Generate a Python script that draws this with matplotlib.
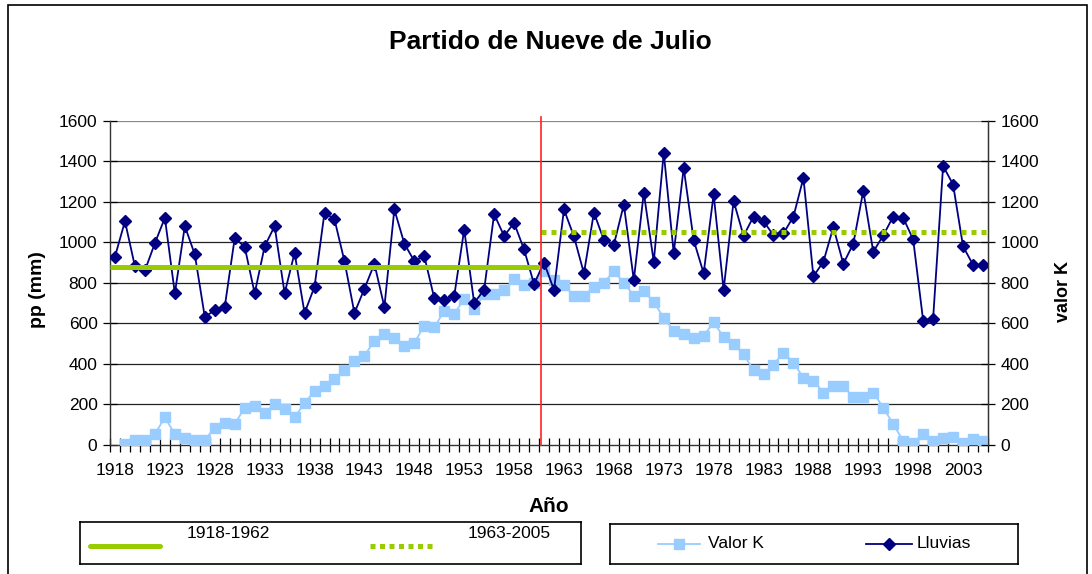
import matplotlib
matplotlib.use("Agg")
import matplotlib.pyplot as plt
import numpy as np
from matplotlib.patches import Rectangle

plt.rcParams['font.family'] = ['Liberation Sans', 'DejaVu Sans']

# Years on the category axis
years = list(range(1918, 2006))

# Annual rainfall (mm)
lluvias = [
    930, 1104, 881, 861, 996, 1121, 748, 1080, 940, 632,
    665, 681, 1021, 978, 748, 980, 1080, 748, 948, 651,
    781, 1147, 1113, 907, 651, 771, 894, 681, 1162, 994,
    907, 932, 724, 717, 735, 1063, 701, 766, 1139, 1031,
    1096, 965, 794, 900, 765, 1162, 1029, 847, 1147, 1011,
    988, 1186, 814, 1245, 904, 1442, 947, 1367, 1011, 847,
    1237, 765, 1204, 1032, 1127, 1105, 1034, 1044, 1127, 1318,
    832, 904, 1075, 894, 993, 1254, 953, 1034, 1127, 1121,
    1014, 614, 624, 1377, 1285, 980, 889, 889,
]

# Valor K (first year has no value)
valor_k = [
    np.nan, 3, 25, 25, 54, 136, 54, 34, 25, 25,
    85, 110, 102, 185, 194, 159, 202, 176, 136, 208,
    265, 292, 327, 369, 415, 440, 515, 550, 530, 489,
    505, 587, 581, 661, 648, 720, 669, 745, 745, 763,
    820, 788, 799, 860, 815, 788, 737, 737, 778, 801,
    858, 801, 737, 761, 704, 628, 563, 546, 528, 538,
    606, 533, 499, 448, 369, 350, 397, 456, 407, 331,
    317, 259, 290, 290, 235, 235, 259, 185, 103, 21,
    11, 54, 21, 33, 41, 11, 28, 20,
]

# Period means
period_labels = ['1918-1962', '1963-2005']
period_means = [876, 1050]

yticks = [0, 200, 400, 600, 800, 1000, 1200, 1400, 1600]
xlabel_years = list(range(1918, 2006, 5))

GREEN = '#99CC00'
NAVY = '#000080'
LIGHT = '#99CCFF'

fig = plt.figure(figsize=(10.92, 5.74), dpi=100)
ax = fig.add_axes([110 / 1092, 1 - 445 / 574, 878 / 1092, 324.3 / 574])

ax.set_xlim(1917.5, 2005.5)
ax.set_ylim(0, 1600)

# gridlines
for v in yticks[1:]:
    ax.axhline(v, color='#222222' if v < 1600 else '#888888', lw=0.9, zorder=1)

ax.plot(years, valor_k, color=LIGHT, lw=1.3, marker='s', ms=7,
        markeredgecolor=LIGHT, zorder=3)
ax.plot(years, lluvias, color=NAVY, lw=1.3, marker='D', ms=6.5,
        markeredgecolor=NAVY, zorder=4)

# split year and period means
split = 1960.7
ax.plot([1917.5, split - 0.2], [period_means[0]] * 2, color=GREEN, lw=3.6,
        solid_capstyle='butt', zorder=5)
ax.plot([split, 2005.5], [period_means[1]] * 2, color=GREEN, lw=3.6,
        linestyle=(0, (1, 1)), dash_capstyle='butt', zorder=5)
ax.axvline(split, ymin=0, ymax=1.012, color='#FF2222', lw=1.2, zorder=6,
           clip_on=False)

ax.spines['top'].set_visible(False)
for s in ['left', 'right', 'bottom']:
    ax.spines[s].set_color('#333333')
    ax.spines[s].set_linewidth(1.0)

ax.set_xticks(xlabel_years)
ax.set_xticklabels([str(y) for y in xlabel_years], fontsize=12.5)
ax.set_xticks(np.arange(1917.5, 2006, 1), minor=True)
ax.tick_params(axis='x', which='major', length=0, pad=13)
ax.tick_params(axis='x', which='minor', direction='inout', length=10, width=0.9)
ax.set_yticks(yticks)
ax.set_yticklabels([str(v) for v in yticks], fontsize=12.5)
ax.tick_params(axis='y', direction='inout', length=10, width=0.9, pad=4)

ax2 = ax.twinx()
ax2.set_ylim(0, 1600)
ax2.set_yticks(yticks)
ax2.set_yticklabels([str(v) for v in yticks], fontsize=12.5)
ax2.tick_params(axis='y', direction='inout', length=10, width=0.9, pad=4)
for s in ['top', 'left', 'bottom']:
    ax2.spines[s].set_visible(False)
ax2.spines['right'].set_color('#333333')

fig.text(550 / 1092, 1 - 42 / 574, 'Partido de Nueve de Julio', fontsize=19,
         fontweight='bold', ha='center', va='center')
fig.text(37 / 1092, 1 - 290 / 574, 'pp (mm)', fontsize=14, fontweight='bold',
         rotation=90, ha='center', va='center')
fig.text(1063 / 1092, 1 - 292 / 574, 'valor K', fontsize=13, fontweight='bold',
         rotation=90, ha='center', va='center')
fig.text(549 / 1092, 1 - 507 / 574, 'Año', fontsize=15, fontweight='bold',
         ha='center', va='center')

# outer chart border
fig.patches.append(Rectangle((8 / 1092, -0.02), 1079 / 1092, 1 - 5 / 574 + 0.02,
                             transform=fig.transFigure, fill=False,
                             edgecolor='black', lw=1.2))

# legend boxes drawn in pixel units
def legend_box(x0, y_top, x1, y_bot):
    lax = fig.add_axes([x0 / 1092, 1 - y_bot / 574, (x1 - x0) / 1092,
                        (y_bot - y_top) / 574])
    lax.set_xlim(0, x1 - x0)
    lax.set_ylim(0, y_bot - y_top)
    lax.set_xticks([])
    lax.set_yticks([])
    for s in lax.spines.values():
        s.set_linewidth(1.2)
        s.set_color('black')
    return lax

lg1 = legend_box(80, 522, 581, 564)
lg1.plot([10, 80], [18, 18], color=GREEN, lw=3.6, solid_capstyle='round')
lg1.text(107, 31, period_labels[0], fontsize=12.5, va='center')
lg1.plot([290, 356], [18, 18], color=GREEN, lw=3.6,
         linestyle=(0, (1, 0.9)), dash_capstyle='butt')
lg1.text(388, 31, period_labels[1], fontsize=12.5, va='center')

lg2 = legend_box(610, 524, 1018, 564)
lg2.plot([48, 90], [20, 20], color=LIGHT, lw=1.3)
lg2.plot([69], [20], color=LIGHT, marker='s', ms=7)
lg2.text(98, 21, 'Valor K', fontsize=12.5, va='center')
lg2.plot([256, 302], [20, 20], color=NAVY, lw=1.3)
lg2.plot([279], [20], color=NAVY, marker='D', ms=6.5)
lg2.text(307, 21, 'Lluvias', fontsize=12.5, va='center')

fig.savefig('out.png', dpi=100)
